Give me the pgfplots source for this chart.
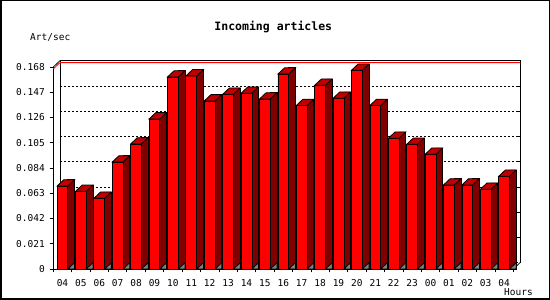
\documentclass[border=0pt]{standalone}
\usepackage{fontspec}
\setmainfont{DejaVu Sans Mono}
\setmonofont{DejaVu Sans Mono}
\usepackage{pgfplots}
\pgfplotsset{compat=1.18}
\usepackage{pgfplotstable}
\definecolor{barfront}{RGB}{255,0,0}
\definecolor{barside}{RGB}{128,0,0}
\definecolor{bartop}{RGB}{192,0,0}
\definecolor{floorgray}{RGB}{128,128,128}

\pgfplotstableread{
x v
0 0.0690
1 0.0646
2 0.0588
3 0.0890
4 0.1040
5 0.1248
6 0.1597
7 0.1606
8 0.1398
9 0.1453
10 0.1462
11 0.1414
12 0.1621
13 0.1360
14 0.1528
15 0.1420
16 0.1653
17 0.1360
18 0.1087
19 0.1037
20 0.0954
21 0.0699
22 0.0699
23 0.0663
24 0.0771
}\artdata

\pgfdeclareplotmark{top3d}{%
  \pgfpathmoveto{\pgfqpoint{-5.4pt}{0pt}}%
  \pgfpathlineto{\pgfqpoint{1.3pt}{6.3pt}}%
  \pgfpathlineto{\pgfqpoint{12.1pt}{6.3pt}}%
  \pgfpathlineto{\pgfqpoint{5.4pt}{0pt}}%
  \pgfpathclose
  \pgfusepathqfillstroke}
\pgfdeclareplotmark{sidebot}{%
  \pgfpathmoveto{\pgfqpoint{5.4pt}{0pt}}%
  \pgfpathlineto{\pgfqpoint{12.1pt}{0pt}}%
  \pgfpathlineto{\pgfqpoint{12.1pt}{6.3pt}}%
  \pgfpathclose
  \pgfusepathqfillstroke}

\begin{document}
\begin{tikzpicture}[x=1pt,y=1pt]
\begin{axis}[
  at={(53.3pt,31pt)}, anchor=south west,
  scale only axis, width=460pt, height=202pt,
  xmin=-0.5, xmax=24.5, ymin=0, ymax=0.168,
  clip=false,
  axis lines*=left,
  axis line style={line width=0.8pt},
  tick align=outside,
  tick style={black, line width=0.8pt},
  major tick length=3.5pt, minor tick length=3.5pt,
  xtick={0,...,24},
  xticklabels={04,05,06,07,08,09,10,11,12,13,14,15,16,17,18,19,20,21,22,23,00,01,02,03,04},
  major x tick style={draw=none},
  minor xtick={-0.5,0.5,...,24.5},
  ytick={0,0.021,0.042,0.063,0.084,0.105,0.126,0.147,0.168},
  yticklabels={0,0.021,0.042,0.063,0.084,0.105,0.126,0.147,0.168},
  ymajorgrids,
  major grid style={black, line width=0.8pt, dash pattern=on 2pt off 2pt, xshift=6.7pt, yshift=6.3pt},
  tick label style={font=\fontsize{9.5}{11}\selectfont, text=black},
  xticklabel style={anchor=base, yshift=-14.3pt},
  yticklabel style={anchor=east, inner sep=0pt, xshift=-4.8pt},
]
% back wall
\draw[line width=0.8pt] ([xshift=6.7pt,yshift=6.3pt]axis cs:-0.5,0) -- ([xshift=6.7pt,yshift=6.3pt]axis cs:-0.5,0.168) -- ([xshift=6.7pt,yshift=6.3pt]axis cs:24.5,0.168) -- ([xshift=6.7pt,yshift=6.3pt]axis cs:24.5,0);
\draw[line width=0.8pt] (axis cs:-0.5,0.168) -- ++(6.7pt,6.3pt);
\draw[line width=0.8pt] (axis cs:24.5,0) -- ++(6.7pt,6.3pt);
\draw[red, line width=0.8pt] (axis cs:-0.5,0.1664) -- ++(6.7pt,6.3pt) -- ([xshift=6.7pt,yshift=6.3pt]axis cs:24.5,0.1664);
\pgfplotsinvokeforeach{0.021,0.042,0.063,0.084,0.105,0.126,0.147}{
  \draw[line width=0.8pt] ([xshift=6.7pt,yshift=6.3pt]axis cs:24.5,#1) -- ++(-3pt,0pt);
}
% side faces
\addplot[ybar, bar width=6.7pt, bar shift=8.75pt, fill=barside, draw=black, line width=0.8pt]
  table[x=x, y expr=\thisrow{v}+0.00524] {\artdata};
% top faces
\addplot[only marks, mark=top3d, mark options={fill=bartop, draw=black, line width=0.8pt}]
  table[x=x, y=v] {\artdata};
% front faces
\addplot[ybar, bar width=10.8pt, bar shift=0pt, fill=barfront, draw=black, line width=0.8pt]
  table[x=x, y=v] {\artdata};
% floor triangles
\addplot[only marks, mark=sidebot, mark options={fill=floorgray, draw=black, line width=0.8pt}]
  table[x=x, y expr=0*\thisrow{v}] {\artdata};
\end{axis}
\node[anchor=base, font=\bfseries\fontsize{11.5}{13}\selectfont, inner sep=0pt] at (273.3,269.3) {Incoming articles};
\node[anchor=base west, font=\fontsize{9.5}{11}\selectfont, inner sep=0pt] at (30,259.3) {Art/sec};
\node[anchor=base west, font=\fontsize{9.5}{11}\selectfont, inner sep=0pt] at (504,4) {Hours};
\draw[line width=1.5pt] (0.75,0.75) rectangle (549.25,299.25);
\pgfresetboundingbox
\useasboundingbox (0,0) rectangle (550,300);
\end{tikzpicture}
\end{document}
